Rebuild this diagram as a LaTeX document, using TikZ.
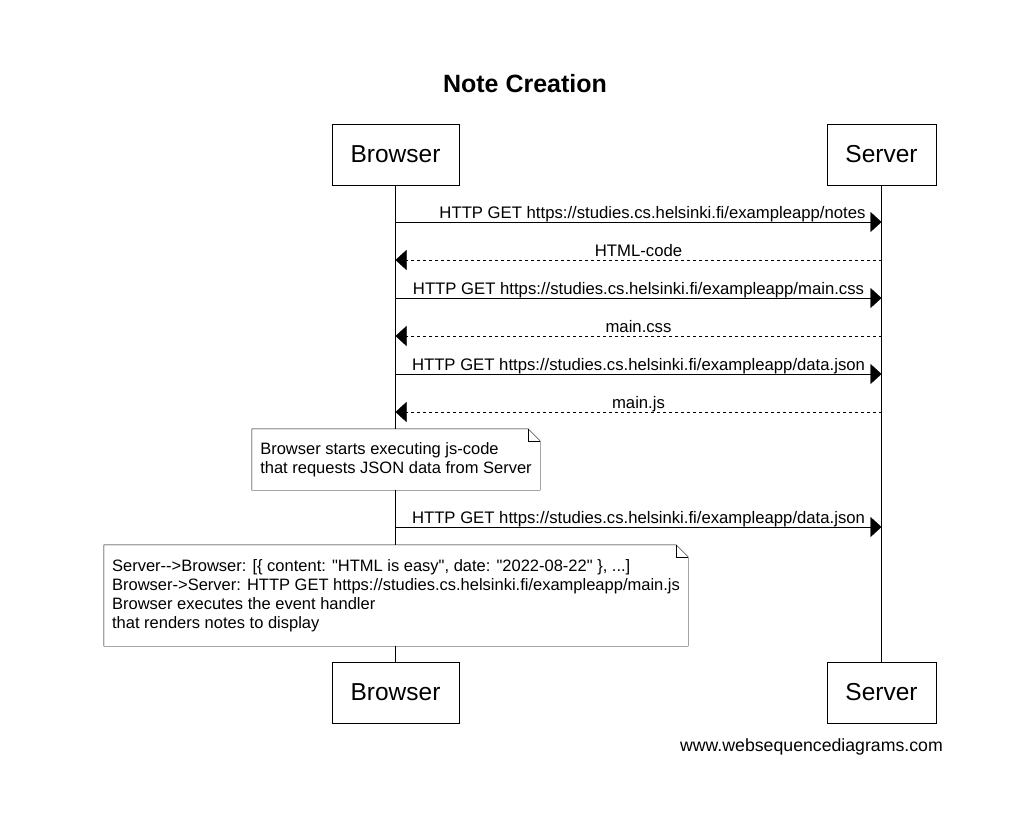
\documentclass[tikz,border=0pt]{standalone}
\usepackage{fontspec}
\setmainfont{Liberation Sans}
\usetikzlibrary{arrows.meta, positioning}

\begin{document}
\begin{tikzpicture}[x=1pt, y=-1pt,
  actor/.style={draw, inner xsep=18.5pt, minimum height=61pt, font=\fontsize{24.5}{28}\selectfont},
  msg/.style={-{Triangle[length=11pt, width=20pt]}},
  reply/.style={msg, dashed},
  lbl/.style={midway, above, inner sep=0.5pt, text depth=2.5pt, font=\fontsize{16.7}{19}\selectfont},
  note/.style={align=left, inner sep=0pt, font=\fontsize{16.5}{19}\selectfont}
]
  \useasboundingbox (0,0) rectangle (1021,812);

  % titel en deelnemers
  \node[font=\fontsize{25}{30}\bfseries] (title) at (525,84) {Note Creation};
  \node[actor] (b1) at (395.5,154.5) {Browser};
  \node[actor] (s1) at (881.5,154.5) {Server};
  \node[actor] (b2) at (395.5,692.5) {Browser};
  \node[actor] (s2) at (881.5,692.5) {Server};

  % notities
  \node[note, minimum width=288pt, minimum height=61pt] (n1) at (396,459.5)
    {Browser starts executing js-code\\that requests JSON data from Server};
  \node[note, minimum width=584pt, minimum height=101pt] (n2) at (396,595.5)
    {Server-{}->Browser: [\{ content: \textquotedbl HTML is easy\textquotedbl, date: \textquotedbl 2022-08-22\textquotedbl\ \}, ...]\\
     Browser->Server: HTTP GET https://studies.cs.helsinki.fi/exampleapp/main.js\\
     Browser executes the event handler\\
     that renders notes to display};
  \foreach \n in {n1,n2} {
    \draw (\n.south west) -- (\n.north west) -- ([xshift=-12pt]\n.north east)
      -- ([yshift=-12pt]\n.north east) -- (\n.south east) -- cycle;
    \draw ([xshift=-12pt]\n.north east) |- ([yshift=-12pt]\n.north east);
  }

  % levenslijnen
  \draw (b1) -- (b1 |- n1.north);
  \draw (b1 |- n1.south) -- (b1 |- n2.north);
  \draw (b1 |- n2.south) -- (b2);
  \draw (s1) -- (s2);

  % berichten
  \foreach \y [count=\i] in {222,260,298,336,374,412,527} {
    \coordinate (bm\i) at (b1 |- 0,\y);
    \coordinate (sm\i) at (s1 |- 0,\y);
  }
  \draw[msg] (bm1) -- node[lbl, xshift=14pt] {HTTP GET https://studies.cs.helsinki.fi/exampleapp/notes} (sm1);
  \draw[reply] (sm2) -- node[lbl] {HTML-code} (bm2);
  \draw[msg] (bm3) -- node[lbl] {HTTP GET https://studies.cs.helsinki.fi/exampleapp/main.css} (sm3);
  \draw[reply] (sm4) -- node[lbl] {main.css} (bm4);
  \draw[msg] (bm5) -- node[lbl] {HTTP GET https://studies.cs.helsinki.fi/exampleapp/data.json} (sm5);
  \draw[reply] (sm6) -- node[lbl] {main.js} (bm6);
  \draw[msg] (bm7) -- node[lbl] {HTTP GET https://studies.cs.helsinki.fi/exampleapp/data.json} (sm7);

  \node[anchor=east, inner sep=0pt, font=\fontsize{17.7}{20}\selectfont] (site) at (943,747) {www.websequencediagrams.com};
\end{tikzpicture}
\end{document}
